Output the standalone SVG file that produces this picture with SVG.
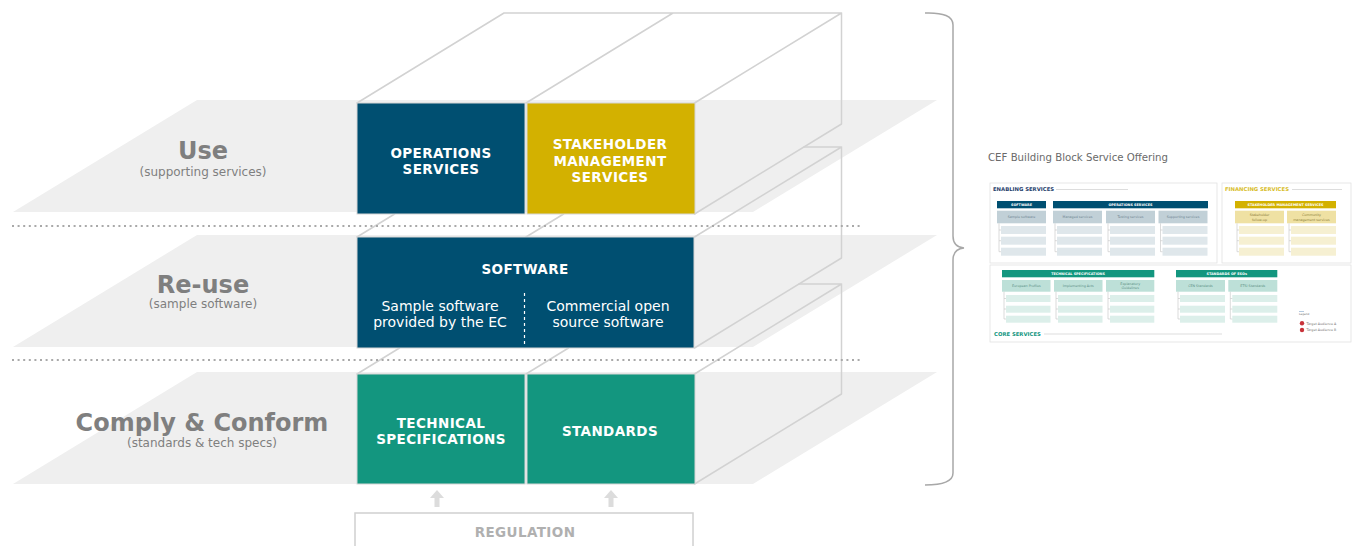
<svg xmlns="http://www.w3.org/2000/svg" width="1358" height="546" viewBox="0 0 1358 546">
<style>
.plane{fill:#efefef}
.wire{fill:none;stroke:#d2d2d2;stroke-width:1.5;stroke-linejoin:round;stroke-linecap:round}
.dots{fill:none;stroke:#a9a9a9;stroke-width:2;stroke-dasharray:2 3.6}
.lbl{font-family:"DejaVu Sans",Verdana,sans-serif;font-weight:bold;font-size:24px;fill:#7f7f7f;text-anchor:middle}
.sub{font-family:"DejaVu Sans",Verdana,sans-serif;font-size:12px;fill:#7f7f7f;text-anchor:middle}
.box{stroke:#d6d6d6;stroke-width:1}
.blue{fill:#004f71}
.yel{fill:#d3b100}
.teal{fill:#13967f}
.bt{font-family:"DejaVu Sans",Verdana,sans-serif;font-weight:bold;font-size:13.5px;letter-spacing:0.4px;fill:#ffffff;text-anchor:middle}
.bn{font-family:"DejaVu Sans",Verdana,sans-serif;font-size:14px;fill:#ffffff;text-anchor:middle}
.arrow{fill:#dcdcdc}
.brace{fill:none;stroke:#a8a8a8;stroke-width:1.5}
.tt{font-family:"DejaVu Sans",Verdana,sans-serif;font-size:10px;fill:#6a6a6a}
.pn{fill:#ffffff;stroke:#e2e2e2;stroke-width:0.8}
.th{font-family:"DejaVu Sans",Verdana,sans-serif;font-weight:bold;font-size:5.3px}
.hb{font-family:"DejaVu Sans",Verdana,sans-serif;font-weight:bold;font-size:3.4px;fill:#ffffff;text-anchor:middle}
.cl{font-family:"DejaVu Sans",Verdana,sans-serif;font-size:3.3px;text-anchor:middle}
.faint{stroke:#dddddd;stroke-width:1.2}
.tree{fill:none;stroke:#c4c4c4;stroke-width:0.6}
</style>

<g id="planes">
  <polygon class="plane" points="197,100 937,100 753,212 13,212"/>
  <polygon class="plane" points="197,235 937,235 753,347 13,347"/>
  <polygon class="plane" points="197,372 937,372 753,484 13,484"/>
</g>

<g id="box-frame">
  <path class="wire" d="M357,103 L504,13 L841.5,13 L841.5,124 L694.5,214 M526,103 L673,13 M694.5,103 L841.5,13"/>
  <path class="wire" d="M357,237 L394.6,214 M526,237 L563.6,214 M804,147 L841.5,147 L841.5,258 L694.5,348 M694.5,237 L841.5,147"/>
  <path class="wire" d="M357,374 L399.5,348 M526,374 L568.5,348 M799,284 L841.5,284 L841.5,394 L694.5,484 M694.5,374 L841.5,284"/>
</g>

<g id="separators">
  <path class="dots" d="M12,226 L862,226"/>
  <path class="dots" d="M12,360 L862,360"/>
</g>

<g id="layer-use">
  <text class="lbl" x="203" y="159">Use</text>
  <text class="sub" x="203" y="176">(supporting services)</text>
</g>
<g id="layer-reuse">
  <text class="lbl" x="203" y="293">Re-use</text>
  <text class="sub" x="203" y="308">(sample software)</text>
</g>
<g id="layer-comply">
  <text class="lbl" x="202" y="431">Comply &amp; Conform</text>
  <text class="sub" x="202" y="447">(standards &amp; tech specs)</text>
</g>

<g id="operations-services">
  <rect class="box blue" x="357" y="103" width="168" height="111"/>
  <text class="bt" x="441" y="157.5">OPERATIONS</text>
  <text class="bt" x="441" y="173.5">SERVICES</text>
</g>
<g id="stakeholder-management-services">
  <rect class="box yel" x="527" y="103" width="168" height="111"/>
  <text class="bt" x="610" y="149">STAKEHOLDER</text>
  <text class="bt" x="610" y="165.5">MANAGEMENT</text>
  <text class="bt" x="610" y="182">SERVICES</text>
</g>
<g id="software">
  <rect class="box blue" x="357" y="237" width="337" height="111"/>
  <text class="bt" x="525" y="274">SOFTWARE</text>
  <line x1="524.5" y1="293" x2="524.5" y2="347" stroke="#ffffff" stroke-width="1.2" stroke-dasharray="3 3"/>
  <text class="bn" x="440" y="311">Sample software</text>
  <text class="bn" x="440" y="327">provided by the EC</text>
  <text class="bn" x="608" y="311">Commercial open</text>
  <text class="bn" x="608" y="327">source software</text>
</g>
<g id="technical-specifications">
  <rect class="box teal" x="357" y="374" width="168" height="110"/>
  <text class="bt" x="441" y="427.5">TECHNICAL</text>
  <text class="bt" x="441" y="443.5">SPECIFICATIONS</text>
</g>
<g id="standards">
  <rect class="box teal" x="527" y="374" width="168" height="110"/>
  <text class="bt" x="610" y="435.5">STANDARDS</text>
</g>
<g id="regulation">
  <rect x="355" y="513" width="338" height="45" fill="#ffffff" stroke="#d0d0d0" stroke-width="1.5"/>
  <text class="bt" x="525" y="536.5" style="fill:#b0b0b0">REGULATION</text>
</g>

<g id="connectors">
  <path class="arrow" d="M437,490 L444,498 L439.5,498 L439.5,507 L434.5,507 L434.5,498 L430,498 Z"/>
  <path class="arrow" d="M611,490 L618,498 L613.5,498 L613.5,507 L608.5,507 L608.5,498 L604,498 Z"/>
  <path class="brace" d="M925,13 Q953,12 953,25 L953,236 Q953,247 964,248 Q953,249 953,260 L953,473 Q953,485 925,485"/>
</g>

<g id="thumbnail">
  <text class="tt" x="988" y="161" textLength="180" lengthAdjust="spacingAndGlyphs">CEF Building  Block Service Offering</text>
  <rect class="pn" x="990" y="183" width="227" height="80"/>
  <rect class="pn" x="1222" y="183" width="129" height="80"/>
  <rect class="pn" x="990" y="265" width="361" height="77"/>

  <g id="thumb-enabling">
    <text class="th" x="993" y="191" fill="#1f3e6b">ENABLING SERVICES</text>
    <line class="faint" x1="1056" y1="189.5" x2="1128" y2="189.5"/>
    <rect x="997" y="201" width="49" height="7.3" fill="#004f71"/>
    <text class="hb" x="1021.5" y="206">SOFTWARE</text>
    <rect x="1053" y="201" width="155" height="7.3" fill="#004f71"/>
    <text class="hb" x="1130.5" y="206">OPERATIONS SERVICES</text>
    <g fill="#c1d0d7">
      <rect x="997" y="210.7" width="49" height="12.6"/>
      <rect x="1053" y="210.7" width="49" height="12.6"/>
      <rect x="1106" y="210.7" width="49" height="12.6"/>
      <rect x="1158.5" y="210.7" width="49" height="12.6"/>
    </g>
    <g class="cl" fill="#6e8591">
      <text x="1021.5" y="218">Sample software</text>
      <text x="1077.5" y="218">Managed services</text>
      <text x="1130.5" y="218">Testing services</text>
      <text x="1183" y="218">Supporting services</text>
    </g>
    <g fill="#dfe7eb">
      <rect x="1001" y="226" width="45" height="8"/><rect x="1001" y="236.7" width="45" height="8"/><rect x="1001" y="247.7" width="45" height="8"/>
      <rect x="1057" y="226" width="45" height="8"/><rect x="1057" y="236.7" width="45" height="8"/><rect x="1057" y="247.7" width="45" height="8"/>
      <rect x="1110" y="226" width="45" height="8"/><rect x="1110" y="236.7" width="45" height="8"/><rect x="1110" y="247.7" width="45" height="8"/>
      <rect x="1162.5" y="226" width="45" height="8"/><rect x="1162.5" y="236.7" width="45" height="8"/><rect x="1162.5" y="247.7" width="45" height="8"/>
    </g>
    <path class="tree" d="M999,223.3 V251.7 M999,230 H1001 M999,240.7 H1001 M999,251.7 H1001 M1055,223.3 V251.7 M1055,230 H1057 M1055,240.7 H1057 M1055,251.7 H1057 M1108,223.3 V251.7 M1108,230 H1110 M1108,240.7 H1110 M1108,251.7 H1110 M1160.5,223.3 V251.7 M1160.5,230 H1162.5 M1160.5,240.7 H1162.5 M1160.5,251.7 H1162.5"/>
  </g>

  <g id="thumb-financing">
    <text class="th" x="1225" y="191" fill="#d8bd2a">FINANCING SERVICES</text>
    <line class="faint" x1="1292" y1="189.5" x2="1342" y2="189.5"/>
    <rect x="1235" y="201" width="101" height="7.3" fill="#d3b100"/>
    <text class="hb" x="1285.5" y="206">STAKEHOLDER MANAGEMENT SERVICES</text>
    <g fill="#efe1a3">
      <rect x="1235" y="210.7" width="49" height="12.6"/>
      <rect x="1287" y="210.7" width="49" height="12.6"/>
    </g>
    <g class="cl" fill="#8c7d3a">
      <text x="1259.5" y="216">Stakeholder</text>
      <text x="1259.5" y="220.5">follow-up</text>
      <text x="1311.5" y="216">Community</text>
      <text x="1311.5" y="220.5">management services</text>
    </g>
    <g fill="#f6f0d2">
      <rect x="1239" y="226" width="45" height="8"/><rect x="1239" y="236.7" width="45" height="8"/><rect x="1239" y="247.7" width="45" height="8"/>
      <rect x="1291" y="226" width="45" height="8"/><rect x="1291" y="236.7" width="45" height="8"/><rect x="1291" y="247.7" width="45" height="8"/>
    </g>
    <path class="tree" d="M1237,223.3 V251.7 M1237,230 H1239 M1237,240.7 H1239 M1237,251.7 H1239 M1289,223.3 V251.7 M1289,230 H1291 M1289,240.7 H1291 M1289,251.7 H1291"/>
  </g>

  <g id="thumb-core">
    <rect x="1002" y="270" width="152.3" height="7.3" fill="#13967f"/>
    <text class="hb" x="1078" y="275">TECHNICAL SPECIFICATIONS</text>
    <rect x="1176" y="270" width="101.3" height="7.3" fill="#13967f"/>
    <text class="hb" x="1226.7" y="275">STANDARDS OF ESOs</text>
    <g fill="#bde0d8">
      <rect x="1002" y="280" width="48.5" height="11.7"/>
      <rect x="1054" y="280" width="48.5" height="11.7"/>
      <rect x="1106" y="280" width="48.3" height="11.7"/>
      <rect x="1176" y="280" width="49" height="11.7"/>
      <rect x="1228.3" y="280" width="49" height="11.7"/>
    </g>
    <g class="cl" fill="#5c8f85">
      <text x="1026.3" y="287">European Profiles</text>
      <text x="1078.3" y="287">Implementing Acts</text>
      <text x="1130.2" y="284.7">Explanatory</text>
      <text x="1130.2" y="289">Guidelines</text>
      <text x="1200.5" y="287">CEN Standards</text>
      <text x="1252.8" y="287">ETSI Standards</text>
    </g>
    <g fill="#dcefea">
      <rect x="1006" y="295" width="44.5" height="7"/><rect x="1006" y="305.7" width="44.5" height="7"/><rect x="1006" y="315.7" width="44.5" height="7"/>
      <rect x="1058" y="295" width="44.5" height="7"/><rect x="1058" y="305.7" width="44.5" height="7"/><rect x="1058" y="315.7" width="44.5" height="7"/>
      <rect x="1110" y="295" width="44.3" height="7"/><rect x="1110" y="305.7" width="44.3" height="7"/><rect x="1110" y="315.7" width="44.3" height="7"/>
      <rect x="1180" y="295" width="45" height="7"/><rect x="1180" y="305.7" width="45" height="7"/><rect x="1180" y="315.7" width="45" height="7"/>
      <rect x="1232.3" y="295" width="45" height="7"/><rect x="1232.3" y="305.7" width="45" height="7"/><rect x="1232.3" y="315.7" width="45" height="7"/>
    </g>
    <path class="tree" d="M1004,291.7 V319 M1004,298.5 H1006 M1004,309 H1006 M1004,319 H1006 M1056,291.7 V319 M1056,298.5 H1058 M1056,309 H1058 M1056,319 H1058 M1108,291.7 V319 M1108,298.5 H1110 M1108,309 H1110 M1108,319 H1110 M1178,291.7 V319 M1178,298.5 H1180 M1178,309 H1180 M1178,319 H1180 M1230.3,291.7 V319 M1230.3,298.5 H1232.3 M1230.3,309 H1232.3 M1230.3,319 H1232.3"/>
    <text class="th" x="994" y="335.5" fill="#13967f">CORE SERVICES</text>
    <line class="faint" x1="1044" y1="334" x2="1222" y2="334"/>
    <line x1="1299" y1="311.5" x2="1304" y2="311.5" stroke="#7fa6c9" stroke-width="0.6"/>
    <text x="1299" y="315" font-family="DejaVu Sans, sans-serif" font-size="2.8" fill="#666">Legend</text>
    <circle cx="1302" cy="323.3" r="2.2" fill="#c8333a"/>
    <circle cx="1302" cy="330" r="2.2" fill="#c8333a"/>
    <text x="1306.5" y="324.5" font-family="DejaVu Sans, sans-serif" font-size="3.3" fill="#777">Target Audience A</text>
    <text x="1306.5" y="331.2" font-family="DejaVu Sans, sans-serif" font-size="3.3" fill="#777">Target Audience B</text>
  </g>
</g>
</svg>
